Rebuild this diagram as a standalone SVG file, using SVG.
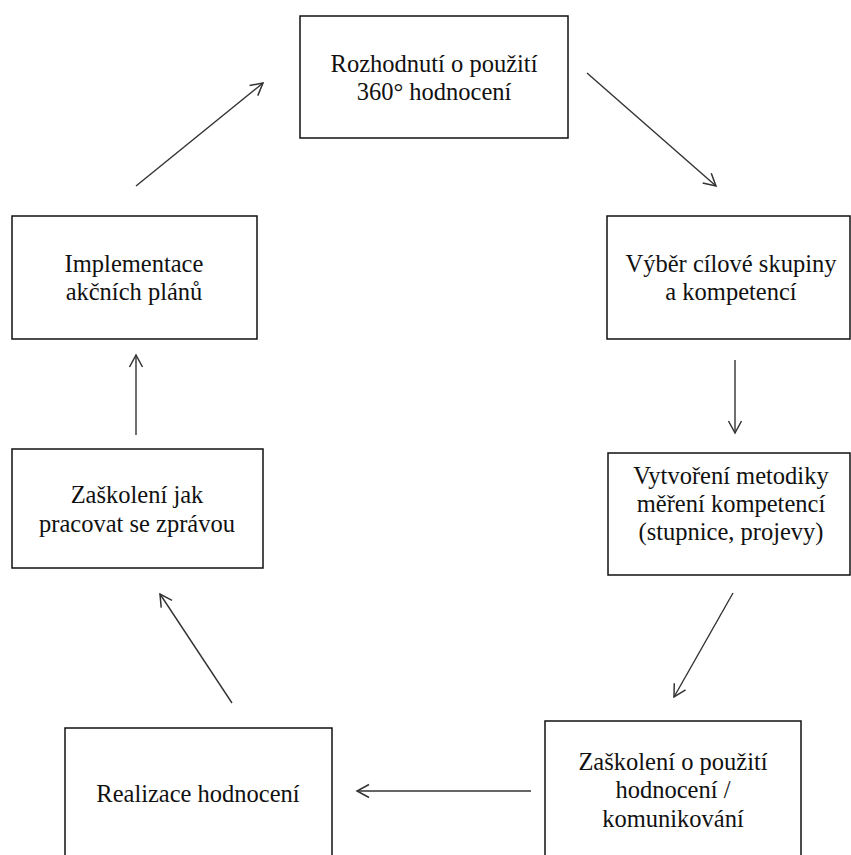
<svg xmlns="http://www.w3.org/2000/svg" width="851" height="855" viewBox="0 0 851 855">
  <defs>
    <style>
      .box { fill: #ffffff; stroke: #111111; stroke-width: 1.5; }
      .lbl { font-family: "Liberation Serif", "Times New Roman", serif; font-size: 24.5px; fill: #111111; text-anchor: middle; }
      .edge { stroke: #333333; stroke-width: 1.4; fill: none; marker-end: url(#head); }
    </style>
    <marker id="head" markerUnits="userSpaceOnUse" markerWidth="16" markerHeight="16" refX="13" refY="7" orient="auto" overflow="visible">
      <path d="M1,0.5 L13,7 L1,13.5" fill="none" stroke="#333333" stroke-width="1.5"/>
    </marker>
  </defs>
  <rect width="851" height="855" fill="#ffffff"/>

  <!-- process steps -->
  <g id="decision">
    <rect class="box" x="300" y="16" width="268" height="122"/>
    <text class="lbl" x="434" y="72">Rozhodnutí o použití</text>
    <text class="lbl" x="434" y="100">360° hodnocení</text>
  </g>
  <g id="target-group">
    <rect class="box" x="607" y="216" width="243" height="123"/>
    <text class="lbl" x="731" y="272">Výběr cílové skupiny</text>
    <text class="lbl" x="731" y="300">a kompetencí</text>
  </g>
  <g id="methodology">
    <rect class="box" x="608" y="453" width="242" height="122"/>
    <text class="lbl" x="731" y="484">Vytvoření metodiky</text>
    <text class="lbl" x="731" y="512">měření kompetencí</text>
    <text class="lbl" x="731" y="540">(stupnice, projevy)</text>
  </g>
  <g id="training-use">
    <rect class="box" x="545" y="721" width="256" height="150"/>
    <text class="lbl" x="673" y="770">Zaškolení o použití</text>
    <text class="lbl" x="673" y="798">hodnocení /</text>
    <text class="lbl" x="673" y="827">komunikování</text>
  </g>
  <g id="realisation">
    <rect class="box" x="65" y="728" width="267" height="150"/>
    <text class="lbl" x="198" y="802">Realizace hodnocení</text>
  </g>
  <g id="training-report">
    <rect class="box" x="12" y="449" width="251" height="119"/>
    <text class="lbl" x="137" y="503">Zaškolení jak</text>
    <text class="lbl" x="137" y="532">pracovat se zprávou</text>
  </g>
  <g id="action-plans">
    <rect class="box" x="12" y="216" width="245" height="123"/>
    <text class="lbl" x="134" y="272">Implementace</text>
    <text class="lbl" x="134" y="300">akčních plánů</text>
  </g>

  <!-- cycle connectors -->
  <g id="connectors">
    <line class="edge" x1="136" y1="186" x2="263" y2="83"/>
    <line class="edge" x1="587" y1="73" x2="716" y2="186"/>
    <line class="edge" x1="735" y1="360" x2="735" y2="433"/>
    <line class="edge" x1="733" y1="593" x2="674" y2="697"/>
    <line class="edge" x1="531" y1="791" x2="357" y2="791"/>
    <line class="edge" x1="232" y1="703" x2="160" y2="594"/>
    <line class="edge" x1="136" y1="435" x2="136" y2="355"/>
  </g>
</svg>
